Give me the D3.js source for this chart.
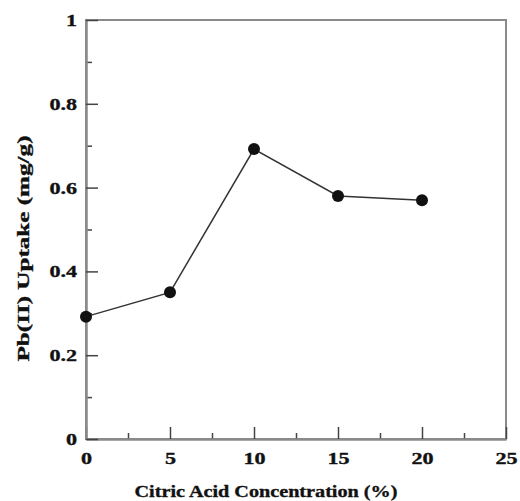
<!DOCTYPE html>
<html>
<head>
<meta charset="utf-8">
<script src="https://cdn.jsdelivr.net/npm/d3@7"></script>
<style>
    body { margin: 0; background: #fff; }
    #chart text { font-family: "Liberation Serif", "Times New Roman", serif; font-weight: bold; fill: #111; stroke: #111; stroke-width: 0.35px; }
</style>
</head>
<body>
<div id="chart"></div>
<script>
// data
let concentration = [0, 5, 10, 15, 20];
let uptake = [0.292, 0.350, 0.692, 0.580, 0.570];

let xTicks = [0, 5, 10, 15, 20, 25];
let xMinor = [2.5, 7.5, 12.5, 17.5, 22.5];
let yTicks = [0, 0.2, 0.4, 0.6, 0.8, 1];
let yMinor = [0.1, 0.3, 0.5, 0.7, 0.9];

let xTitle = "Citric Acid Concentration (%)";
let yTitle = "Pb(II) Uptake (mg/g)";

let margin = {top: 20, right: 14, bottom: 62, left: 86};
let width = 520 - margin.left - margin.right,
    height = 501 - margin.top - margin.bottom;

let svg = d3.select("#chart").append("svg")
    .attr("width", 520)
    .attr("height", 501)
    .append("g")
    .attr("transform", "translate(" + margin.left + "," + margin.top + ")");

let x = d3.scaleLinear().domain([0, 25]).range([0, width]);
let y = d3.scaleLinear().domain([0, 1]).range([height, 0]);

// frame (top + right, no ticks)
svg.append("rect")
    .attr("width", width)
    .attr("height", height)
    .attr("fill", "none")
    .attr("stroke", "#8a8a8a")
    .attr("stroke-width", 2);

// minor ticks
svg.append("g")
    .attr("transform", "translate(0," + height + ")")
    .call(d3.axisBottom(x).tickValues(xMinor).tickSize(-6).tickFormat(""))
    .call(g => g.select(".domain").remove());
svg.append("g")
    .call(d3.axisLeft(y).tickValues(yMinor).tickSize(-6).tickFormat(""))
    .call(g => g.select(".domain").remove());

// major axes, ticks pointing in
let xAxis = svg.append("g")
    .attr("transform", "translate(0," + height + ")")
    .call(d3.axisBottom(x).tickValues(xTicks).tickSizeInner(-12).tickSizeOuter(0).tickPadding(13));
let yAxis = svg.append("g")
    .call(d3.axisLeft(y).tickValues(yTicks).tickFormat(d3.format("~g")).tickSizeInner(-12).tickSizeOuter(0).tickPadding(9));

svg.selectAll(".tick line").attr("stroke", "#444").attr("stroke-width", 1.5);
svg.selectAll(".domain").attr("stroke", "#8a8a8a").attr("stroke-width", 2.5);
svg.selectAll(".tick text").attr("font-size", 17);

// the print looks wider than plain Times, stretch labels a bit
svg.selectAll(".tick text").each(function () {
    let t = d3.select(this);
    let w = this.getComputedTextLength();
    t.attr("textLength", w * 1.3).attr("lengthAdjust", "spacingAndGlyphs");
});

// line + markers
let line = d3.line()
    .x((d, i) => x(concentration[i]))
    .y(d => y(d));

svg.append("path")
    .datum(uptake)
    .attr("d", line)
    .attr("fill", "none")
    .attr("stroke", "#333")
    .attr("stroke-width", 1.5);

svg.selectAll(".dot")
    .data(uptake)
    .enter().append("circle")
    .attr("class", "dot")
    .attr("cx", (d, i) => x(concentration[i]))
    .attr("cy", d => y(d))
    .attr("r", 6)
    .attr("fill", "#111");

// axis titles
svg.append("text")
    .attr("x", 180)
    .attr("y", height + 58)
    .attr("text-anchor", "middle")
    .attr("font-size", 17)
    .attr("textLength", 263)
    .attr("lengthAdjust", "spacingAndGlyphs")
    .text(xTitle);

svg.append("text")
    .attr("transform", "translate(-57," + (y(0.5) + 19) + ") rotate(-90)")
    .attr("text-anchor", "middle")
    .attr("font-size", 17)
    .attr("textLength", 226)
    .attr("lengthAdjust", "spacingAndGlyphs")
    .text(yTitle);
</script>
</body>
</html>
